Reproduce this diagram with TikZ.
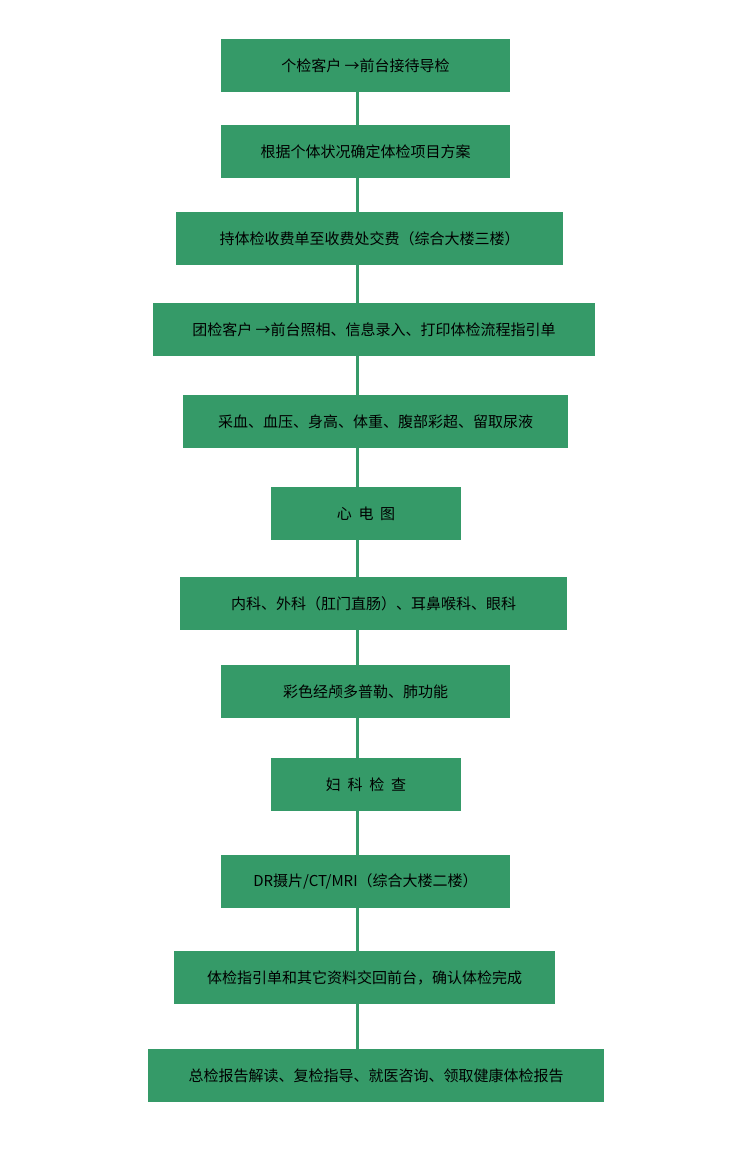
\documentclass[tikz,border=0pt]{standalone}
\usepackage{fontspec}
\newfontfamily\cjk{Noto Sans CJK SC}
\definecolor{gbox}{HTML}{359A68}
\begin{document}
\begin{tikzpicture}[x=1pt,y=-1pt,
  box/.style={fill=gbox,draw=none,minimum height=53pt,inner sep=0pt,font=\cjk\fontsize{15pt}{18pt}\selectfont,text=black},
  link/.style={draw=gbox,line width=3pt}]
\useasboundingbox (0,0) rectangle (752,1149);
\coordinate (lx) at (357,0);
\node[box,minimum width=289pt] (n1) at (365.5,65.5) {个检客户 →前台接待导检};
\node[box,minimum width=289pt] (n2) at (365.5,151.5) {根据个体状况确定体检项目方案};
\node[box,minimum width=387pt] (n3) at (369.5,238.5) {持体检收费单至收费处交费（综合大楼三楼）};
\node[box,minimum width=442pt] (n4) at (374,329.5) {团检客户 →前台照相、信息录入、打印体检流程指引单};
\node[box,minimum width=385pt] (n5) at (375.5,421.5) {采血、血压、身高、体重、腹部彩超、留取尿液};
\node[box,minimum width=190pt] (n6) at (366,513.5) {心\ \ 电\ \ 图};
\node[box,minimum width=387pt] (n7) at (373.5,603.5) {内科、外科（肛门直肠）、耳鼻喉科、眼科};
\node[box,minimum width=289pt] (n8) at (365.5,691.5) {彩色经颅多普勒、肺功能};
\node[box,minimum width=190pt] (n9) at (366,784.5) {妇\ \ 科\ \ 检\ \ 查};
\node[box,minimum width=289pt] (n10) at (365.5,881.5) {DR摄片/CT/MRI（综合大楼二楼）};
\node[box,minimum width=381pt] (n11) at (364.5,977.5) {体检指引单和其它资料交回前台，确认体检完成};
\node[box,minimum width=456pt] (n12) at (376,1075.5) {总检报告解读、复检指导、就医咨询、领取健康体检报告};
\foreach \a/\b in {n1/n2,n2/n3,n3/n4,n4/n5,n5/n6,n6/n7,n7/n8,n8/n9,n9/n10,n10/n11,n11/n12}
  \draw[link] (\a.south -| lx) -- (\b.north -| lx);
\end{tikzpicture}
\end{document}
